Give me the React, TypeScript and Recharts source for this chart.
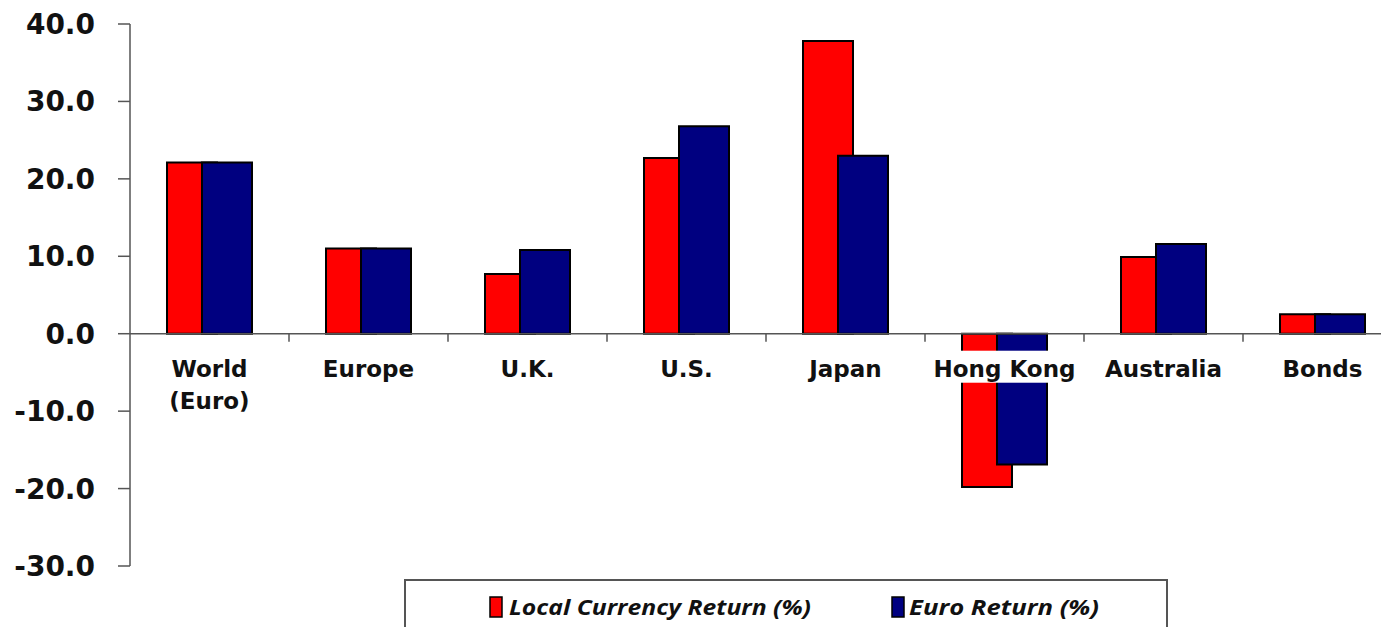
import { Bar, BarChart, Legend, ReferenceLine, XAxis, YAxis } from "recharts";

const categories = ["World\n(Euro)", "Europe", "U.K.", "U.S.", "Japan", "Hong Kong", "Australia", "Bonds"];
const localReturn = [22.1, 11.0, 7.7, 22.7, 37.8, -19.8, 9.9, 2.5];
const euroReturn = [22.1, 11.0, 10.8, 26.8, 23.0, -16.9, 11.6, 2.5];
const yTicks = [-30, -20, -10, 0, 10, 20, 30, 40];

const data = categories.map((name, i) => ({ name, local: localReturn[i], euro: euroReturn[i] }));

const FONT = "'DejaVu Sans', sans-serif";
const W = 1410;
const H = 635;
const MARGIN = { top: 24, right: 8, bottom: 39, left: 0 };
const Y_AXIS_W = 130;
const X_AXIS_H = 30;
const PLOT_H = H - MARGIN.top - MARGIN.bottom - X_AXIS_H;
const PLOT_W = W - MARGIN.left - MARGIN.right - Y_AXIS_W;
const BAND = PLOT_W / categories.length;
const Y_MIN = -30;
const Y_MAX = 40;
const zeroY = MARGIN.top + (PLOT_H * Y_MAX) / (Y_MAX - Y_MIN);

function CategoryTick(props: any) {
  const { x, payload, index } = props;
  const lines = String(payload.value).split("\n");
  const longest = Math.max(...lines.map((l) => l.length));
  const boxW = longest * 15.6 + 4;
  return (
    <g>
      {index > 0 && (
        <line x1={x - BAND / 2} x2={x - BAND / 2} y1={zeroY} y2={zeroY + 8} stroke="#555" strokeWidth={1.5} />
      )}
      <rect x={x - boxW / 2} y={zeroY + 17} width={boxW} height={lines.length * 32} fill="#fff" />
      {lines.map((line, i) => (
        <text
          key={i}
          x={x}
          y={zeroY + 43 + i * 32}
          textAnchor="middle"
          fontFamily={FONT}
          fontWeight="bold"
          fontSize={23}
          fill="#111"
        >
          {line}
        </text>
      ))}
    </g>
  );
}

// legend item placement inside the box, keyed by series
const legendLayout: Record<string, { swatchX: number; textX: number; textLen: number }> = {
  local: { swatchX: 84, textX: 103, textLen: 302 },
  euro: { swatchX: 486, textX: 503, textLen: 190 },
};

function LegendBox(props: any) {
  const items = props.payload || [];
  return (
    <div style={{ width: 764, height: 53, border: "2px solid #555", boxSizing: "border-box", background: "#fff" }}>
      <svg width={760} height={49} style={{ display: "block" }}>
        {items.map((item: any) => {
          const pos = legendLayout[item.dataKey];
          if (!pos) return null;
          return (
            <g key={item.dataKey}>
              <rect x={pos.swatchX} y={16} width={12} height={20} fill={item.color} stroke="#000" strokeWidth={1.5} />
              <text
                x={pos.textX}
                y={34}
                fontFamily="'Open Sans', sans-serif"
                fontStyle="italic"
                fontWeight="bold"
                fontSize={22}
                fill="#111"
                textLength={pos.textLen}
                lengthAdjust="spacingAndGlyphs"
              >
                {item.value}
              </text>
            </g>
          );
        })}
      </svg>
    </div>
  );
}

export default function App() {
  return (
    <div style={{ margin: -8, width: 1389, height: 635, overflow: "hidden", background: "#fff" }}>
      <BarChart width={W} height={H} data={data} margin={MARGIN} barSize={50} barGap={-15}>
        <YAxis
          type="number"
          domain={[Y_MIN, Y_MAX]}
          ticks={yTicks}
          width={Y_AXIS_W}
          tickSize={12}
          tickMargin={23}
          interval={0}
          tickFormatter={(v: number) => v.toFixed(1)}
          axisLine={{ stroke: "#555", strokeWidth: 1.5 }}
          tickLine={{ stroke: "#555", strokeWidth: 1.5 }}
          tick={{ fontFamily: FONT, fontWeight: "bold", fontSize: 28, fill: "#111" }}
        />
        <ReferenceLine y={0} stroke="#555" strokeWidth={1.5} />
        <Bar dataKey="local" name="Local Currency Return (%)" fill="#ff0000" stroke="#000" strokeWidth={2} isAnimationActive={false} />
        <Bar dataKey="euro" name="Euro Return (%)" fill="#000080" stroke="#000" strokeWidth={2} isAnimationActive={false} />
        <XAxis
          dataKey="name"
          height={X_AXIS_H}
          interval={0}
          axisLine={false}
          tickLine={false}
          tick={<CategoryTick />}
        />
        <Legend
          layout="horizontal"
          verticalAlign="middle"
          align="center"
          content={<LegendBox />}
          wrapperStyle={{ position: "absolute", left: 404, top: 579, width: 764, height: 53 }}
        />
      </BarChart>
    </div>
  );
}
